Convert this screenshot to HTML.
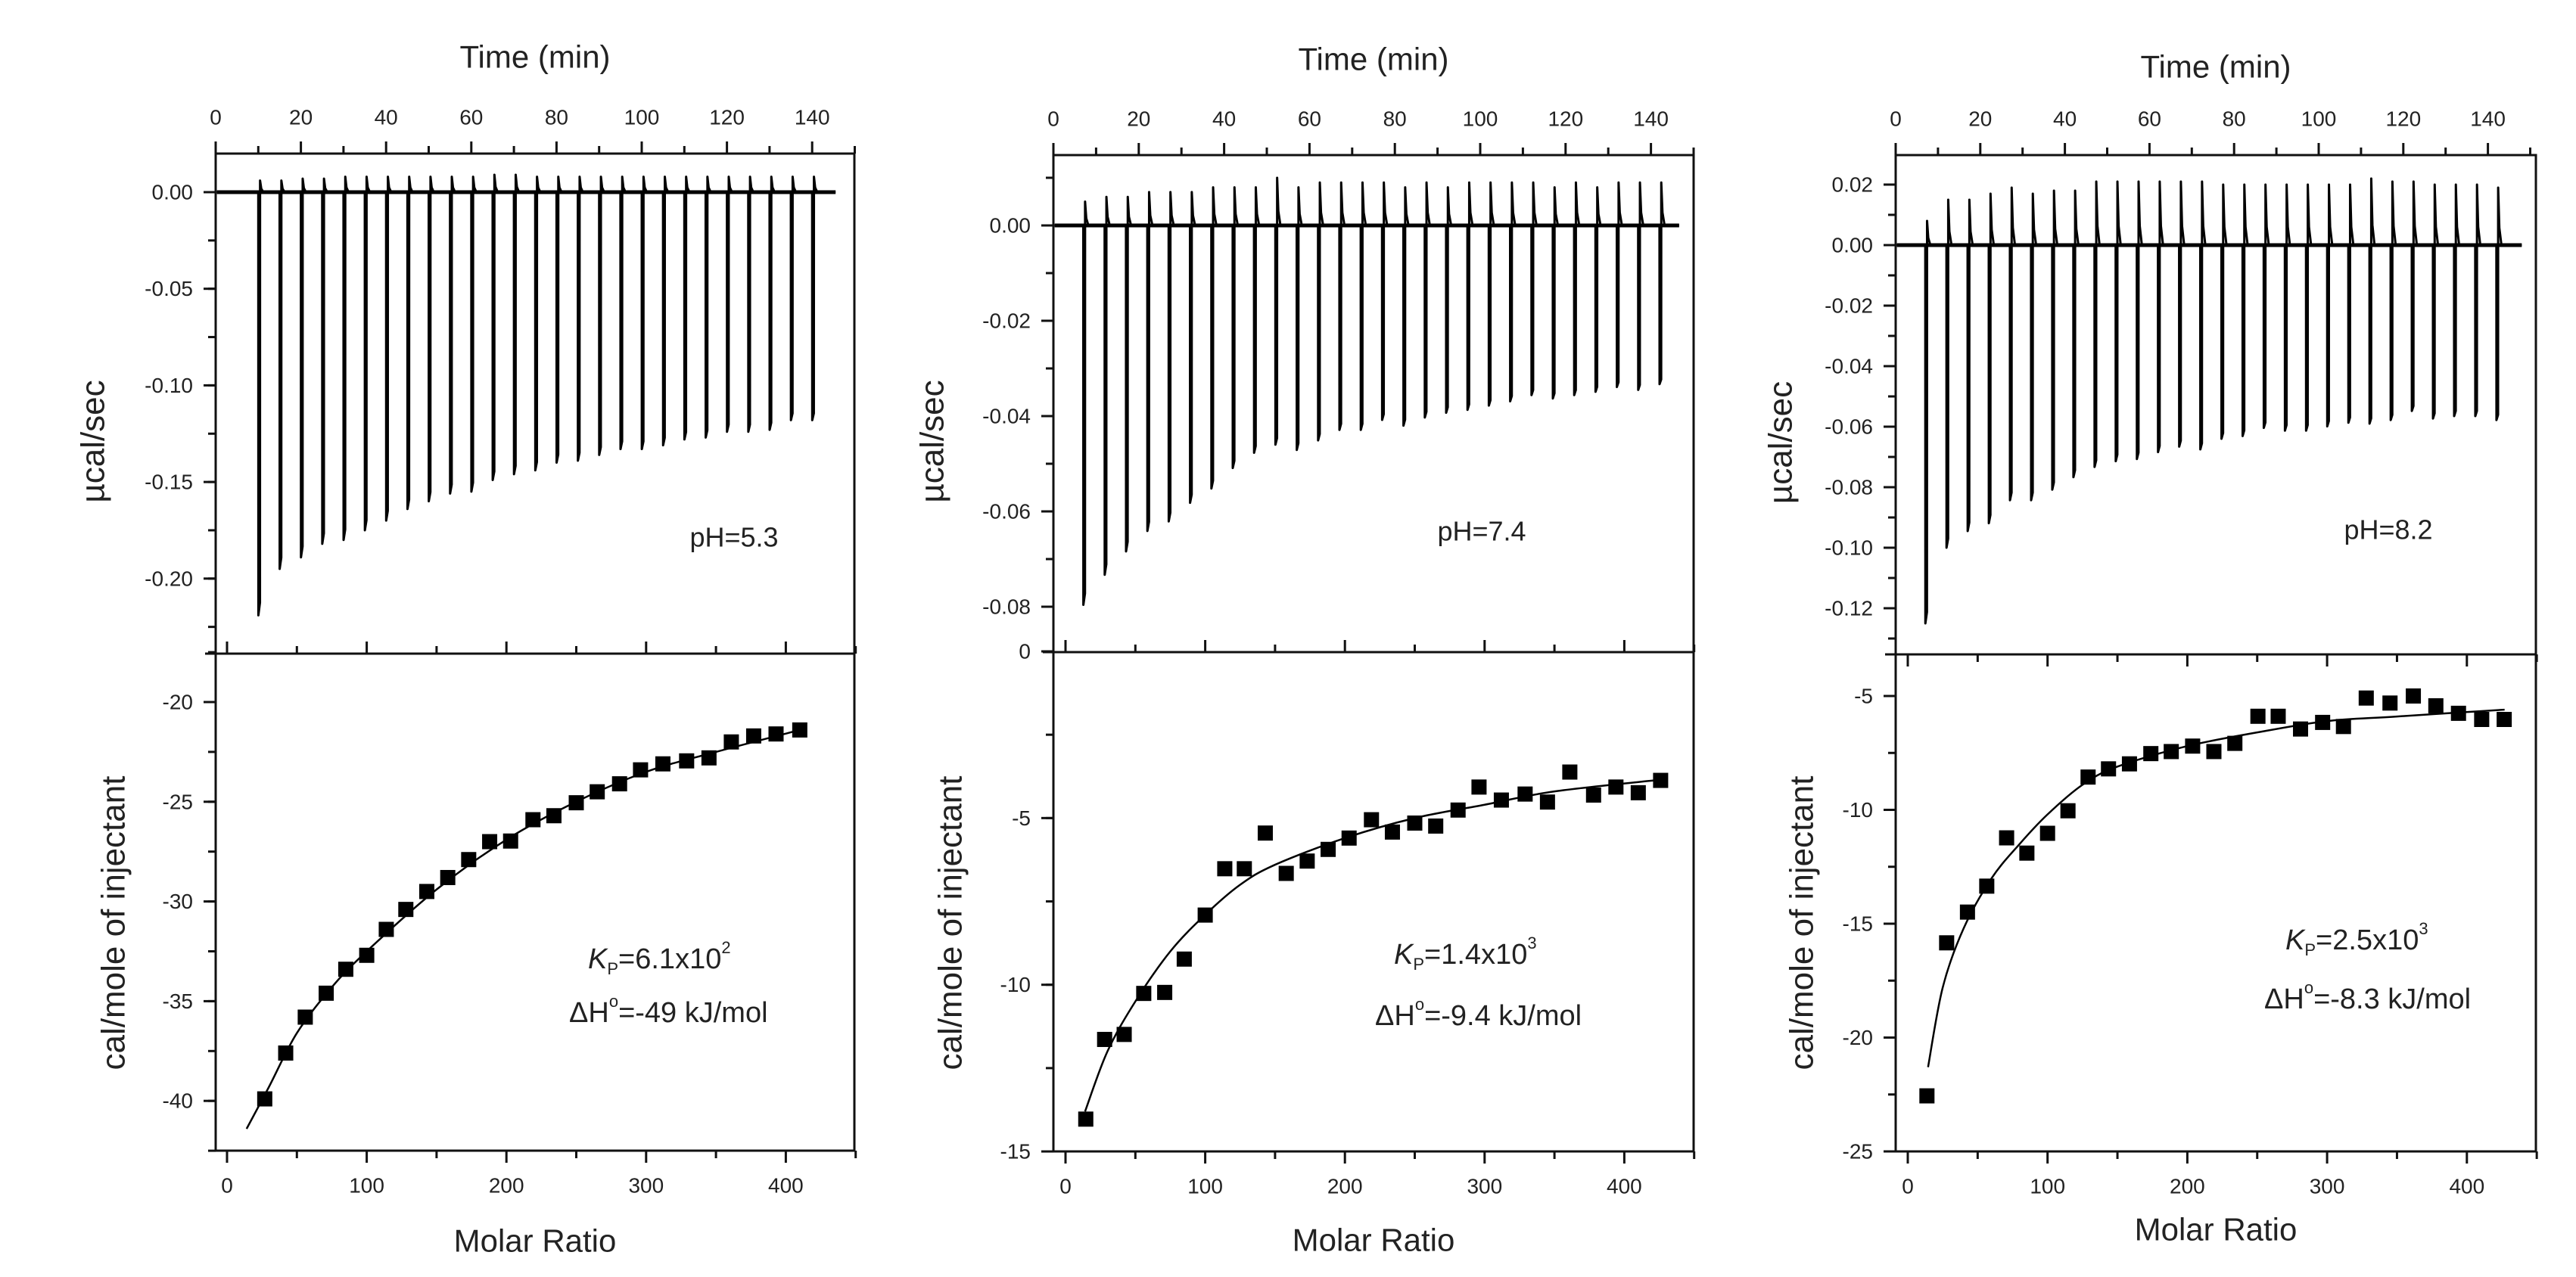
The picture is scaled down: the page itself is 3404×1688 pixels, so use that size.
<!DOCTYPE html>
<html><head><meta charset="utf-8"><style>
html,body{margin:0;padding:0;background:#fff;}
svg{display:block;}
text{font-family:"Liberation Sans",Arial,sans-serif;}
</style></head><body>
<svg id="chart" width="3404" height="1688" viewBox="0 0 3404 1688" xmlns="http://www.w3.org/2000/svg"></svg>
<script>
// ---------- Panel 1 (pH 5.3) ----------
const p1Times = [10,15,20,25,30,35,40,45,50,55,60,65,70,75,80,85,90,95,100,105,110,115,120,125,130,135,140];
const p1Peaks = [-0.219,-0.195,-0.189,-0.182,-0.180,-0.175,-0.170,-0.164,-0.160,-0.156,-0.155,-0.149,-0.146,-0.144,-0.140,-0.139,-0.136,-0.133,-0.133,-0.131,-0.128,-0.127,-0.124,-0.124,-0.123,-0.118,-0.118];
const p1Over = [0.006,0.006,0.007,0.007,0.008,0.008,0.008,0.008,0.008,0.008,0.008,0.009,0.009,0.008,0.008,0.008,0.008,0.008,0.008,0.008,0.008,0.008,0.008,0.008,0.008,0.008,0.008];
const p1Ratio = [27,42,56,71,85,100,114,128,143,158,173,188,203,219,234,250,265,281,296,312,329,345,361,377,393,410];
const p1Heat = [-39.9,-37.6,-35.8,-34.6,-33.4,-32.7,-31.4,-30.4,-29.5,-28.8,-27.9,-27.0,-26.97,-25.9,-25.7,-25.05,-24.5,-24.1,-23.4,-23.1,-22.95,-22.8,-22.0,-21.7,-21.6,-21.4];
const p1FitX = [14,30,50,75,100,150,200,250,300,350,410];
const p1FitY = [-41.4,-39.3,-36.6,-34.3,-32.5,-29.4,-26.9,-25.0,-23.5,-22.5,-21.4];
const p1TopLabels = ["0.00","-0.05","-0.10","-0.15","-0.20"];
const p1TopVals = [0,-0.05,-0.10,-0.15,-0.20];
const p1BotLabels = ["-20","-25","-30","-35","-40"];
const p1BotVals = [-20,-25,-30,-35,-40];

// ---------- Panel 2 (pH 7.4) ----------
const p2Times = [7,12,17,22,27,32,37,42,47,52,57,62,67,72,77,82,87,92,97,102,107,112,117,122,127,132,137,142];
const p2Peaks = [-0.0796,-0.0733,-0.0684,-0.0641,-0.0621,-0.0582,-0.0552,-0.0509,-0.0477,-0.046,-0.0471,-0.0451,-0.0429,-0.0429,-0.0408,-0.0420,-0.0403,-0.0393,-0.0387,-0.0378,-0.0369,-0.0356,-0.0363,-0.0356,-0.0349,-0.0339,-0.0345,-0.0333];
const p2Over = [0.005,0.006,0.006,0.007,0.007,0.007,0.008,0.008,0.008,0.010,0.008,0.009,0.009,0.009,0.009,0.008,0.009,0.008,0.009,0.009,0.009,0.009,0.008,0.009,0.008,0.009,0.009,0.009];
const p2Ratio = [14.5,28,42,56,71,85,100,114,128,143,158,173,188,203,219,234,250,265,281,296,312,329,345,361,378,394,410,426];
const p2Heat = [-14.03,-11.64,-11.49,-10.26,-10.23,-9.23,-7.91,-6.52,-6.52,-5.45,-6.66,-6.29,-5.94,-5.60,-5.05,-5.42,-5.15,-5.24,-4.76,-4.07,-4.46,-4.28,-4.52,-3.62,-4.31,-4.07,-4.24,-3.87];
const p2FitX = [14,30,50,75,100,125,150,200,250,300,350,426];
const p2FitY = [-13.8,-12.0,-10.5,-9.0,-7.9,-7.0,-6.4,-5.6,-5.0,-4.6,-4.2,-3.85];
const p2TopLabels = ["0.00","-0.02","-0.04","-0.06","-0.08"];
const p2TopVals = [0,-0.02,-0.04,-0.06,-0.08];
const p2BotLabels = ["0","-5","-10","-15"];
const p2BotVals = [0,-5,-10,-15];

// ---------- Panel 3 (pH 8.2) ----------
const p3Times = [7,12,17,22,27,32,37,42,47,52,57,62,67,72,77,82,87,92,97,102,107,112,117,122,127,132,137,142];
const p3Peaks = [-0.125,-0.100,-0.0945,-0.0919,-0.0843,-0.0843,-0.0808,-0.0767,-0.0733,-0.0714,-0.0707,-0.0684,-0.0666,-0.0675,-0.0640,-0.0631,-0.0604,-0.0613,-0.0613,-0.0599,-0.0587,-0.0590,-0.0578,-0.0548,-0.0573,-0.0565,-0.0565,-0.0578];
const p3Over = [0.008,0.015,0.015,0.017,0.019,0.017,0.018,0.018,0.021,0.021,0.021,0.021,0.021,0.021,0.020,0.020,0.020,0.020,0.020,0.020,0.020,0.022,0.021,0.021,0.020,0.020,0.020,0.019];
const p3Ratio = [13.7,27.8,42.7,56.5,70.7,85.2,100,114.6,129,143.6,158.6,173.9,188.5,203.8,219,234,250.5,265,281,296.8,311.7,328,345,361.7,377.8,394,410.6,426.7];
const p3Heat = [-22.56,-15.84,-14.49,-13.35,-11.23,-11.90,-11.03,-10.04,-8.56,-8.20,-7.98,-7.53,-7.44,-7.20,-7.44,-7.08,-5.89,-5.89,-6.45,-6.16,-6.34,-5.09,-5.31,-5.0,-5.43,-5.76,-6.03,-6.03];
const p3FitX = [14.5,25,40,60,80,100,125,150,200,250,300,350,427];
const p3FitY = [-21.3,-17.8,-15.2,-13.0,-11.5,-10.2,-8.9,-8.1,-7.2,-6.6,-6.1,-5.9,-5.6];
const p3TopLabels = ["0.02","0.00","-0.02","-0.04","-0.06","-0.08","-0.10","-0.12"];
const p3TopVals = [0.02,0,-0.02,-0.04,-0.06,-0.08,-0.10,-0.12];
const p3BotLabels = ["-5","-10","-15","-20","-25"];
const p3BotVals = [-5,-10,-15,-20,-25];

// shared axis labels
const timeLabels = ["0","20","40","60","80","100","120","140"];
const timeVals = [0,20,40,60,80,100,120,140];
const ratioLabels = ["0","100","200","300","400"];
const ratioVals = [0,100,200,300,400];

const NS = "http://www.w3.org/2000/svg";
const svg = document.getElementById("chart");
function mk(tag, attrs, parent){
  const e = document.createElementNS(NS, tag);
  for (const k in attrs) e.setAttribute(k, attrs[k]);
  (parent||svg).appendChild(e);
  return e;
}
function txt(parent, x, y, s, size, anchor, name, extra){
  const t = mk("text", Object.assign({x:x, y:y, "font-size":size, "text-anchor":anchor||"middle", "dominant-baseline":"central", fill:"#222"}, extra||{}), parent);
  t.textContent = s;
  
  
  return t;
}
function smoothPath(pts){
  let d = "M" + pts[0][0] + "," + pts[0][1];
  for (let i=0;i<pts.length-1;i++){
    const p0 = pts[i-1]||pts[i], p1 = pts[i], p2 = pts[i+1], p3 = pts[i+2]||p2;
    const c1x = p1[0] + (p2[0]-p0[0])/6, c1y = p1[1] + (p2[1]-p0[1])/6;
    const c2x = p2[0] - (p3[0]-p1[0])/6, c2y = p2[1] - (p3[1]-p1[1])/6;
    d += " C" + c1x + "," + c1y + " " + c2x + "," + c2y + " " + p2[0] + "," + p2[1];
  }
  return d;
}

function drawPanel(c){
  const g = mk("g", {});
  
  
  const tx = t => c.x0 + (t - 0) * c.pxMin;
  const ty = v => c.v0px - v * c.pxV;
  const mx = m => c.m0px + m * c.pxM;
  const my = v => c.refPx + (c.refV - v) * c.pxH;
  const ax = {stroke:"#111", "stroke-width":3, fill:"none"};

  const fr = mk("rect", Object.assign({x:c.x0, y:c.yTop, width:c.x1-c.x0, height:c.yBot-c.yTop}, ax), g);
  
  
  const ml = mk("line", Object.assign({x1:c.x0-14, x2:c.x1, y1:c.yMid, y2:c.yMid}, ax), g);
  
  

  for (let t=0; t<=150; t+=10){
    const major = t%20===0;
    mk("line", Object.assign({x1:tx(t), x2:tx(t), y1:c.yTop, y2:c.yTop-(major?16:10)}, ax), g);
  }
  timeVals.forEach((v,i)=> txt(g, tx(v), c.yTop-48, timeLabels[i], 28, "middle", "time-tick-label"));
  txt(g, (c.x0+c.x1)/2 + c.titleDx, c.timeTitleY, "Time (min)", 42, "middle", "time-axis-title");

  for (const v of c.topMinor){
    mk("line", Object.assign({x1:c.x0, x2:c.x0-10, y1:ty(v), y2:ty(v)}, ax), g);
  }
  c.topVals.forEach((v,i)=>{
    mk("line", Object.assign({x1:c.x0, x2:c.x0-16, y1:ty(v), y2:ty(v)}, ax), g);
    txt(g, c.x0-30, ty(v), c.topLabels[i], 28, "end", "y-tick-label-top");
  });
  txt(g, c.ytitleX, (c.yTop+c.yMid)/2+50, "µcal/sec", 44, "middle", "y-axis-title-top", {transform:"rotate(-90 "+c.ytitleX+" "+((c.yTop+c.yMid)/2+50)+")"});

  for (let m=0; m<=450; m+=50){
    const major = m%100===0;
    const len = major?16:10;
    mk("line", Object.assign({x1:mx(m), x2:mx(m), y1:c.yMid, y2:c.yMid + c.midDir*len}, ax), g);
  }

  for (let m=0; m<=450; m+=50){
    const major = m%100===0;
    mk("line", Object.assign({x1:mx(m), x2:mx(m), y1:c.yBot, y2:c.yBot+(major?16:10)}, ax), g);
  }
  ratioVals.forEach((v,i)=> txt(g, mx(v), c.yBot+46, ratioLabels[i], 28, "middle", "x-tick-label"));
  txt(g, (c.x0+c.x1)/2 + c.titleDx, c.molarTitleY, "Molar Ratio", 42, "middle", "x-axis-title");
  for (const v of c.botMinor){
    mk("line", Object.assign({x1:c.x0, x2:c.x0-10, y1:my(v), y2:my(v)}, ax), g);
  }
  c.botVals.forEach((v,i)=>{
    mk("line", Object.assign({x1:c.x0, x2:c.x0-16, y1:my(v), y2:my(v)}, ax), g);
    txt(g, c.x0-30, my(v), c.botLabels[i], 28, "end", "y-tick-label-bottom");
  });
  txt(g, c.ytitle2X, 1220, "cal/mole of injectant", 44, "middle", "y-axis-title-bottom", {transform:"rotate(-90 "+c.ytitle2X+" 1220)"});

  // thermogram
  let d = "M" + tx(0.3) + "," + ty(0);
  c.times.forEach((t,i)=>{
    const pk = c.peaks[i], ov = c.over[i];
    d += " L" + tx(t) + "," + ty(0);
    d += " L" + tx(t+0.02) + "," + ty(pk);
    d += " L" + tx(t+0.4) + "," + ty(pk*0.97);
    d += " L" + tx(t+0.42) + "," + ty(ov);
    d += " L" + tx(t+0.7) + "," + ty(ov*0.3);
    d += " L" + tx(t+1.2) + "," + ty(0);
  });
  d += " L" + tx(c.tEnd) + "," + ty(0);
  const th = mk("path", {d:d, stroke:"#000", "stroke-width":3, fill:"none", "stroke-linejoin":"round"}, g);
  
  
  const bl = mk("line", {x1:tx(0.3), x2:tx(c.tEnd), y1:ty(0), y2:ty(0), stroke:"#000", "stroke-width":5}, g);
  
  

  const fp = c.fitX.map((x,i)=>[mx(x), my(c.fitY[i])]);
  const fit = mk("path", {d:smoothPath(fp), stroke:"#000", "stroke-width":2.5, fill:"none"}, g);
  
  

  c.ratio.forEach((x,i)=>{
    const r = mk("rect", {x:mx(x)-10, y:my(c.heat[i])-10, width:20, height:20, fill:"#000"}, g);
    
    
  });

  txt(g, c.phX, c.phY, c.ph, 36, "middle", "ph-label");
  const k = mk("text", {x:c.kX, y:c.kY, "font-size":38, fill:"#222", "dominant-baseline":"central"}, g);
  
  
  const t1 = mk("tspan", {"font-style":"italic"}, k); t1.textContent = "K";
  const t2 = mk("tspan", {"font-size":22, dy:12}, k); t2.textContent = "P";
  const t3 = mk("tspan", {dy:-12}, k); t3.textContent = "=" + c.kVal;
  const t4 = mk("tspan", {"font-size":22, dy:-16}, k); t4.textContent = c.kExp;
  const h = mk("text", {x:c.hX, y:c.hY, "font-size":38, fill:"#222", "dominant-baseline":"central"}, g);
  
  
  const h1 = mk("tspan", {}, h); h1.textContent = "ΔH";
  const h2 = mk("tspan", {"font-size":22, dy:-16}, h); h2.textContent = "o";
  const h3 = mk("tspan", {dy:16}, h); h3.textContent = c.dH;
}

function range(a,b,s){const r=[];for(let v=a; s>0? v<=b+1e-9 : v>=b-1e-9; v+=s) r.push(+v.toFixed(4));return r;}

drawPanel({name:"panel-ph-5-3", x0:285, x1:1129, yTop:203, yMid:864, yBot:1521, pxMin:5.63, tEnd:145.5,
  v0px:254, pxV:2554, m0px:300, pxM:1.846, refV:-20, refPx:928, pxH:26.36,
  topVals:p1TopVals, topLabels:p1TopLabels, topMinor:range(0,-0.225,-0.025),
  botVals:p1BotVals, botLabels:p1BotLabels, botMinor:range(-17.5,-42.5,-2.5),
  times:p1Times, peaks:p1Peaks, over:p1Over, ratio:p1Ratio, heat:p1Heat, fitX:p1FitX, fitY:p1FitY,
  midDir:-1, titleDx:0, timeTitleY:75, molarTitleY:1640, ytitleX:123, ytitle2X:150,
  ph:"pH=5.3", phX:970, phY:710, kX:777, kY:1268, kVal:"6.1x10", kExp:"2", hX:752, hY:1339, dH:"=-49 kJ/mol"});

drawPanel({name:"panel-ph-7-4", x0:1392, x1:2238, yTop:205, yMid:862, yBot:1522, pxMin:5.64, tEnd:146.6,
  v0px:298, pxV:6300, m0px:1408, pxM:1.846, refV:0, refPx:861, pxH:44.07,
  topVals:p2TopVals, topLabels:p2TopLabels, topMinor:range(0.01,-0.08,-0.01),
  botVals:p2BotVals, botLabels:p2BotLabels, botMinor:range(-2.5,-12.5,-2.5),
  times:p2Times, peaks:p2Peaks, over:p2Over, ratio:p2Ratio, heat:p2Heat, fitX:p2FitX, fitY:p2FitY,
  midDir:-1, titleDx:0, timeTitleY:78, molarTitleY:1639, ytitleX:1232, ytitle2X:1256,
  ph:"pH=7.4", phX:1958, phY:702, kX:1842, kY:1262, kVal:"1.4x10", kExp:"3", hX:1817, hY:1343, dH:"=-9.4 kJ/mol"});

drawPanel({name:"panel-ph-8-2", x0:2505, x1:3351, yTop:205, yMid:865, yBot:1522, pxMin:5.59, tEnd:148,
  v0px:324, pxV:4000, m0px:2521, pxM:1.847, refV:-5, refPx:920, pxH:30.1,
  topVals:p3TopVals, topLabels:p3TopLabels, topMinor:range(0.02,-0.13,-0.01),
  botVals:p3BotVals, botLabels:p3BotLabels, botMinor:range(-5,-25,-2.5),
  times:p3Times, peaks:p3Peaks, over:p3Over, ratio:p3Ratio, heat:p3Heat, fitX:p3FitX, fitY:p3FitY,
  midDir:1, titleDx:0, timeTitleY:88, molarTitleY:1625, ytitleX:2353, ytitle2X:2381,
  ph:"pH=8.2", phX:3156, phY:700, kX:3020, kY:1243, kVal:"2.5x10", kExp:"3", hX:2992, hY:1321, dH:"=-8.3 kJ/mol"});
</script>
</body></html>
